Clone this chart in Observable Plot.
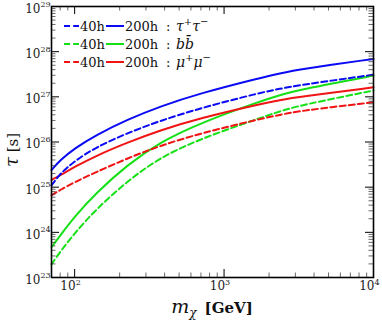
<!DOCTYPE html>
<html><head><meta charset="utf-8">
<script src="https://cdn.jsdelivr.net/npm/d3@7"></script>
<script src="https://cdn.jsdelivr.net/npm/@observablehq/plot@0.6"></script>
<style>body{margin:0;background:#fff}svg{display:block}</style>
</head><body><div id="chart"></div>
<script>
// Dark-matter mass m_chi [GeV]
const mass = [70, 80, 100, 138, 226, 374, 692, 1738, 2361, 3211, 10000];
// log10(tau [s])
const tau40  = [25.04, 25.30, 25.58, 25.88, 26.20, 26.47, 26.75, 27.09, 27.18, 27.26, 27.49];
const tau200 = [25.38, 25.60, 25.86, 26.15, 26.50, 26.79, 27.08, 27.42, 27.52, 27.61, 27.84];
const bb40   = [23.29, 23.57, 23.98, 24.50, 25.14, 25.66, 26.07, 26.53, 26.68, 26.81, 27.14];
const bb200  = [23.67, 23.93, 24.35, 24.86, 25.50, 26.00, 26.42, 26.90, 27.04, 27.16, 27.47];
const mu40   = [24.82, 24.94, 25.11, 25.33, 25.64, 25.92, 26.19, 26.51, 26.60, 26.69, 26.88];
const mu200  = [25.16, 25.26, 25.45, 25.69, 25.99, 26.26, 26.53, 26.84, 26.93, 27.00, 27.21];
const exposures = ["40h", "200h"];
const yExp = [23, 24, 25, 26, 27, 28, 29];
const xExp = [2, 3, 4];

const BLUE = "#0a0af5", GREEN = "#15e015", RED = "#f01414";
const DASH = "6,3.2";
const series = [
  {values: bb40, color: GREEN, dash: DASH},
  {values: bb200, color: GREEN, dash: null},
  {values: mu40, color: RED, dash: DASH},
  {values: mu200, color: RED, dash: null},
  {values: tau40, color: BLUE, dash: DASH},
  {values: tau200, color: BLUE, dash: null}
];

const W = 382, H = 320, mL = 51, mR = 9, mT = 6, mB = 43;
const fw = W - mL - mR, fh = H - mT - mB;
const FONT = "'DejaVu Serif', 'Liberation Serif', serif";

const yMajor = yExp.map(e => 10 ** e);
const yMinor = [];
for (let e = 23; e < 29; e++) for (let k = 2; k <= 9; k++) yMinor.push(k * 10 ** e);
const xMajor = xExp.map(e => 10 ** e);
const xMinor = [];
for (let e = 1; e < 4; e++) for (let k = 2; k <= 9; k++) { const v = k * 10 ** e; if (v >= 70 && v <= 10000) xMinor.push(v); }

const marks = [];
for (const s of series) {
  marks.push(Plot.line(mass, {x: d => d, y: (d, i) => 10 ** s.values[i], stroke: s.color, strokeWidth: 2,
    strokeDasharray: s.dash, curve: "basis"}));
}
// ticks (inward, mirrored)
const MJ = 8, MN = 4.5;
marks.push(
  Plot.ruleY(yMajor, {y: d => d, insetRight: fw - MJ, stroke: "#000", strokeWidth: 1}),
  Plot.ruleY(yMajor, {y: d => d, insetLeft: fw - MJ, stroke: "#000", strokeWidth: 1}),
  Plot.ruleY(yMinor, {y: d => d, insetRight: fw - MN, stroke: "#444", strokeWidth: 0.8}),
  Plot.ruleY(yMinor, {y: d => d, insetLeft: fw - MN, stroke: "#444", strokeWidth: 0.8}),
  Plot.ruleX(xMajor, {x: d => d, insetTop: fh - MJ, stroke: "#000", strokeWidth: 1}),
  Plot.ruleX(xMajor, {x: d => d, insetBottom: fh - MJ, stroke: "#000", strokeWidth: 1}),
  Plot.ruleX(xMinor, {x: d => d, insetTop: fh - MN, stroke: "#444", strokeWidth: 0.8}),
  Plot.ruleX(xMinor, {x: d => d, insetBottom: fh - MN, stroke: "#444", strokeWidth: 0.8}),
  Plot.frame({stroke: "#000", strokeWidth: 1.6})
);
// tick labels 10^n
marks.push(
  Plot.text(yExp, {y: e => 10 ** e, frameAnchor: "left", text: () => "10", textAnchor: "end", dx: -11, dy: 2.5,
    fontSize: 12, fontFamily: FONT, fill: "#222"}),
  Plot.text(yExp, {y: e => 10 ** e, frameAnchor: "left", text: e => String(e), textAnchor: "start", dx: -11, dy: -2.5,
    fontSize: 8, fontFamily: FONT, fill: "#222"}),
  Plot.text(xExp, {x: e => 10 ** e, frameAnchor: "bottom", text: () => "10", textAnchor: "end", dx: 1, dy: 12,
    fontSize: 12, fontFamily: FONT, fill: "#222"}),
  Plot.text(xExp, {x: e => 10 ** e, frameAnchor: "bottom", text: e => String(e), textAnchor: "start", dx: 1, dy: 7,
    fontSize: 8, fontFamily: FONT, fill: "#222"})
);

const chart = Plot.plot({
  width: W, height: H, marginLeft: mL, marginRight: mR, marginTop: mT, marginBottom: mB,
  x: {type: "log", domain: [70, 10000], axis: null},
  y: {type: "log", domain: [1e23, 1e29], axis: null},
  style: {background: "#fff", fontFamily: FONT},
  marks
});
document.getElementById("chart").appendChild(chart);

// Axis labels and legend (rich text)
const svg = d3.select(chart);
const g = svg.append("g").attr("font-family", FONT).attr("fill", "#111").attr("text-anchor", "start");
// x label
const xl = g.append("text").attr("x", mL + fw / 2).attr("y", 313).attr("text-anchor", "middle");
xl.append("tspan").attr("font-style", "italic").attr("font-size", 19).text("m");
xl.append("tspan").attr("font-style", "italic").attr("font-size", 12).attr("dy", 4).text("χ");
xl.append("tspan").attr("font-size", 16).attr("dy", -4).text("\u2002");
xl.append("tspan").attr("font-size", 15).attr("font-weight", "bold").text("[GeV]");
// y label
const yl = g.append("text").attr("transform", "translate(18,150) rotate(-90)").attr("text-anchor", "middle");
yl.append("tspan").attr("font-style", "italic").attr("font-size", 18).text("τ");
yl.append("tspan").attr("font-size", 15).text(" [s]");

// legend
const legendRows = [
  {color: BLUE, label: [["τ", "italic", 0], ["+", null, -6], ["τ", "italic", 6], ["−", null, -6]]},
  {color: GREEN, label: "bb"},
  {color: RED, label: [["μ", "italic", 0], ["+", null, -6], ["μ", "italic", 6], ["−", null, -6]]}
];
const rowY = [26, 44, 62];
legendRows.forEach((r, i) => {
  const y = rowY[i];
  g.append("line").attr("x1", 64).attr("x2", 79).attr("y1", y).attr("y2", y)
    .attr("stroke", r.color).attr("stroke-width", 2).attr("stroke-dasharray", DASH);
  g.append("text").attr("x", 80).attr("y", y + 5).attr("font-size", 13).text(exposures[0]);
  g.append("line").attr("x1", 106).attr("x2", 124).attr("y1", y).attr("y2", y)
    .attr("stroke", r.color).attr("stroke-width", 2);
  g.append("text").attr("x", 125).attr("y", y + 5).attr("font-size", 13).text(exposures[1]);
  g.append("text").attr("x", 166).attr("y", y + 5).attr("font-size", 13).text(":");
  const t = g.append("text").attr("x", 176).attr("y", y + 5).attr("font-size", 14);
  if (r.label === "bb") {
    t.append("tspan").attr("font-style", "italic").text("b");
    t.append("tspan").attr("font-style", "italic").text("b\u0304");
  } else {
    r.label.forEach(([s, st, dy]) => {
      const ts = t.append("tspan").attr("dy", dy).text(s);
      if (st) ts.attr("font-style", st); else ts.attr("font-size", 10);
    });
  }
});
</script>
</body></html>
